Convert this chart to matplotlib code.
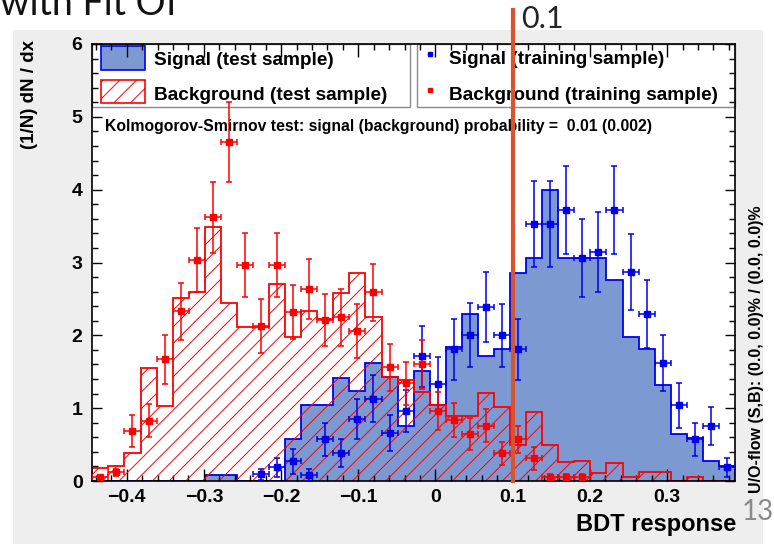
import numpy as np
import matplotlib
matplotlib.use("Agg")
import matplotlib.pyplot as plt
from matplotlib.patches import Rectangle
from matplotlib.ticker import MultipleLocator, FuncFormatter

# BDT response binning (40 equal bins)
x_min, x_max, n_bins = -0.4446, 0.388, 40

# normalised test-sample histograms
sig_test = [0, 0, 0, 0, 0, 0, 0, 0.08, 0.08, 0,
            0, 0, 0.57, 1.04, 1.04, 1.42, 1.24, 1.62, 1.43, 0.75,
            1.51, 1.04, 1.84, 2.29, 1.71, 1.81, 2.86, 3.06, 4.00, 3.06,
            3.06, 3.06, 2.76, 1.98, 1.81, 1.32, 0.65, 0.59, 0.27, 0.20]
bkg_test = [0.18, 0.20, 0.38, 1.55, 1.03, 2.51, 2.59, 3.49, 2.45, 2.12,
            2.12, 2.70, 1.98, 2.33, 2.23, 2.58, 2.85, 2.25, 1.43, 1.38,
            1.22, 1.04, 0.89, 0.89, 1.21, 1.02, 0.50, 0.95, 0.50, 0.26,
            0.27, 0.11, 0.25, 0.05, 0.12, 0.12, 0.0, 0.05, 0.0, 0.0]

# training samples (nan = empty bin, not drawn)
nan = np.nan
sig_train = [nan, nan, nan, nan, nan, nan, nan, nan, nan, nan,
             0.09, 0.19, 0.27, 0.08, 0.57, 0.38, 0.85, 1.13, 0.66, 0.96,
             1.71, 1.33, 1.81, 2.01, 2.39, 2.00, 1.81, 3.53, 3.53, 3.72,
             3.06, 3.15, 3.72, 2.87, 2.29, 1.62, 1.04, 0.57, 0.76, 0.19]
sig_train_err = [0, 0, 0, 0, 0, 0, 0, 0, 0, 0,
                 0.08, 0.13, 0.17, 0.08, 0.23, 0.19, 0.28, 0.32, 0.25, 0.29,
                 0.42, 0.37, 0.42, 0.44, 0.48, 0.43, 0.42, 0.59, 0.59, 0.60,
                 0.54, 0.55, 0.60, 0.52, 0.47, 0.38, 0.31, 0.23, 0.26, 0.13]
bkg_train = [0.05, 0.12, 0.69, 0.83, 1.67, 2.33, 3.04, 3.62, 4.65, 2.97,
             2.13, 2.97, 2.32, 2.64, 2.21, 2.25, 2.06, 2.59, 1.56, 1.34,
             1.60, 0.96, 0.84, 0.65, 0.76, 0.38, 0.57, 0.31, 0.05, 0.05,
             0.05, nan, nan, nan, nan, nan, nan, nan, nan, nan]
bkg_train_err = [0.03, 0.05, 0.22, 0.23, 0.34, 0.39, 0.44, 0.49, 0.55, 0.44,
                 0.37, 0.44, 0.37, 0.41, 0.36, 0.39, 0.37, 0.39, 0.32, 0.30,
                 0.34, 0.26, 0.23, 0.22, 0.23, 0.16, 0.19, 0.16, 0.04, 0.04,
                 0.04, 0, 0, 0, 0, 0, 0, 0, 0, 0]

ks_sig, ks_bkg = 0.01, 0.002
cut_value = 0.1
page_number = "13"

SIG_FILL = "#7d99d1"
SIG_LINE = "#0000ee"
BKG_LINE = "#ff0000"
CUT_COLOR = "#d6552f"

plt.rcParams["font.family"] = ["Liberation Sans", "DejaVu Sans"]
plt.rcParams["font.weight"] = "bold"
plt.rcParams["hatch.linewidth"] = 0.7

W, H = 774, 544
fig = plt.figure(figsize=(W / 100, H / 100), dpi=100)


def fx(px):
    return px / W


def fy(py):
    return 1 - py / H


# frame position in pixels
L, R, T, B = 92.3, 735, 44, 481

# background layer: canvas, frame fill, legend boxes and texts (pixel coordinates)
bg = fig.add_axes([0, 0, 1, 1])
bg.set_xlim(0, W)
bg.set_ylim(H, 0)
bg.axis("off")
bg.set_zorder(0)
bg.add_patch(Rectangle((13, 30), 750, H - 30, facecolor="#eeeeee", edgecolor="none"))
bg.add_patch(Rectangle((L, T), R - L, B - T, facecolor="white", edgecolor="none"))
bg.add_patch(Rectangle((L, T), 410 - L, 107 - T, facecolor="white", edgecolor="#8a8a8a", lw=1.0))
bg.add_patch(Rectangle((417, T), R - 417, 107 - T, facecolor="white", edgecolor="#8a8a8a", lw=1.0))
bg.add_patch(Rectangle((101, 46), 44, 24, facecolor=SIG_FILL, edgecolor=SIG_LINE, lw=1.2))
bg.add_patch(Rectangle((101, 80), 44, 23, facecolor="white", edgecolor=BKG_LINE, hatch="//", lw=1.2))
bg.plot([430], [54], "s", ms=3.5, color=SIG_LINE)
bg.plot([430], [90], "s", ms=3.5, color=BKG_LINE)
bg.text(154, 65, "Signal (test sample)", fontsize=13.7, va="baseline")
bg.text(154, 100, "Background (test sample)", fontsize=13.7, va="baseline")
bg.text(449, 64, "Signal (training sample)", fontsize=13.7, va="baseline")
bg.text(449, 100, "Background (training sample)", fontsize=13.7, va="baseline")
bg.text(105, 130.5, "Kolmogorov-Smirnov test: signal (background) probability =  %g (%g)" % (ks_sig, ks_bkg),
        fontsize=11.3, va="baseline")
bg.text(756, 493, "U/O-flow (S,B): (0.0, 0.0)% / (0.0, 0.0)%", fontsize=11.5, rotation=90,
        ha="center", va="bottom")
bg.text(29, 40, "(1/N) dN / dx", fontsize=13.5, rotation=90, ha="center", va="top")
bg.text(736, 531, "BDT response", fontsize=17, ha="right", va="baseline")

# histogram frame
ax = fig.add_axes([fx(L), fy(B), fx(R) - fx(L), fy(T) - fy(B)])
ax.patch.set_visible(False)
ax.set_zorder(1)

edges = np.linspace(x_min, x_max, n_bins + 1)
centers = 0.5 * (edges[:-1] + edges[1:])
half_w = 0.5 * (edges[1] - edges[0])

ax.stairs(sig_test, edges, fill=True, facecolor=SIG_FILL, edgecolor="none", zorder=1)
ax.stairs(sig_test, edges, color=SIG_LINE, lw=1.3, zorder=1.5)
ax.stairs(bkg_test, edges, fill=True, facecolor="none", edgecolor=BKG_LINE, hatch="//", lw=0, zorder=2)
ax.stairs(bkg_test, edges, color=BKG_LINE, lw=1.3, zorder=2.5)

for vals, errs, col in [(sig_train, sig_train_err, SIG_LINE), (bkg_train, bkg_train_err, BKG_LINE)]:
    vals = np.asarray(vals, dtype=float)
    errs = np.asarray(errs, dtype=float)
    m = ~np.isnan(vals)
    ax.errorbar(centers[m], vals[m], xerr=half_w, yerr=errs[m], fmt="s", ms=4.2, color=col,
                elinewidth=1.1, capsize=2.5, capthick=1.1, zorder=6)


def root_label(v, pos):
    s = "%g" % round(v, 6)
    return s.replace("-", "\u2212")


ax.set_xlim(x_min, x_max)
ax.set_ylim(0, 6)
ax.xaxis.set_major_locator(MultipleLocator(0.1))
ax.xaxis.set_minor_locator(MultipleLocator(0.02))
ax.yaxis.set_major_locator(MultipleLocator(1))
ax.yaxis.set_minor_locator(MultipleLocator(0.2))
ax.xaxis.set_major_formatter(FuncFormatter(root_label))
ax.yaxis.set_major_formatter(FuncFormatter(root_label))
ax.tick_params(which="both", direction="in", top=True, right=True, width=1, labelsize=14)
ax.tick_params(axis="x", which="major", length=9, pad=6)
ax.tick_params(axis="x", which="minor", length=4.5)
ax.tick_params(axis="y", which="major", length=7.5, pad=7)
ax.tick_params(axis="y", which="minor", length=4)
for s in ax.spines.values():
    s.set_linewidth(1.2)

# cut marker and slide annotations on top
top = fig.add_axes([0, 0, 1, 1], facecolor="none")
top.set_xlim(0, W)
top.set_ylim(H, 0)
top.axis("off")
top.set_zorder(3)
cut_px = L + (cut_value - x_min) / (x_max - x_min) * (R - L)
top.plot([cut_px, cut_px], [10, B], color=CUT_COLOR, lw=3)

slide = dict(family=["Lato", "DejaVu Sans"], weight="normal")
top.text(521, 28, "%g" % cut_value, fontsize=22, color="#262626", va="baseline", **slide)
top.text(742, 520, page_number, fontsize=20, color="#8a8a8a", va="baseline", **slide)
top.text(0, 15, "with Fit Of", fontsize=27, color="#111111", va="baseline", **slide)

fig.savefig("out.png", dpi=100)
